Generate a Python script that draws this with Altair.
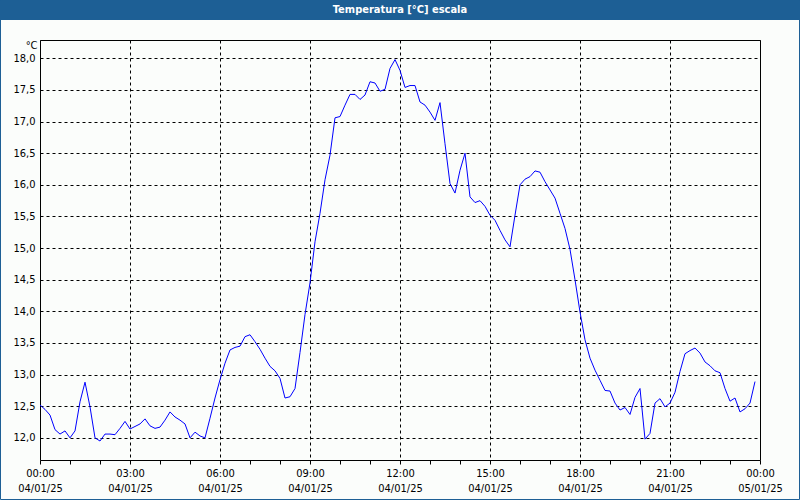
import altair as alt
import pandas as pd

# 10-minute readings on 04/01/25, starting 00:00
temps = [
    12.52, 12.45, 12.36, 12.13, 12.06, 12.11, 12.00, 12.11, 12.57, 12.88,
    12.49, 12.00, 11.95, 12.06, 12.06, 12.05, 12.15, 12.26, 12.14, 12.18,
    12.22, 12.30, 12.19, 12.15, 12.17, 12.28, 12.41, 12.33, 12.28, 12.22,
    12.00, 12.09, 12.03, 12.00, 12.31, 12.63, 12.92, 13.18, 13.39, 13.43,
    13.45, 13.60, 13.63, 13.52, 13.40, 13.26, 13.13, 13.06, 12.94, 12.63,
    12.65, 12.78, 13.35, 13.95, 14.45, 15.10, 15.55, 16.08, 16.47, 17.06,
    17.08, 17.26, 17.43, 17.43, 17.35, 17.42, 17.63, 17.61, 17.48, 17.51,
    17.84, 17.98, 17.81, 17.54, 17.57, 17.57, 17.31, 17.26, 17.15, 17.02,
    17.30, 16.65, 16.02, 15.87, 16.23, 16.50, 15.81, 15.72, 15.75, 15.66,
    15.52, 15.44, 15.28, 15.13, 15.02, 15.52, 16.00, 16.09, 16.13, 16.22,
    16.20, 16.05, 15.92, 15.79, 15.55, 15.31, 14.98, 14.50, 13.99, 13.55,
    13.26, 13.07, 12.91, 12.75, 12.74, 12.55, 12.44, 12.48, 12.37, 12.64,
    12.78, 11.98, 12.07, 12.55, 12.62, 12.49, 12.55, 12.72, 13.05, 13.33,
    13.38, 13.42, 13.34, 13.20, 13.14, 13.06, 13.03, 12.78, 12.58, 12.63,
    12.41, 12.46, 12.55, 12.89,
]
times = [f"2025-01-04T{(i * 10) // 60:02d}:{(i * 10) % 60:02d}:00Z" for i in range(len(temps))]

y_ticks = [12.0, 12.5, 13.0, 13.5, 14.0, 14.5, 15.0, 15.5, 16.0, 16.5, 17.0, 17.5, 18.0]
x_ticks = [alt.DateTime(year=2025, month=1, date=4, hours=h, utc=True) for h in range(24)] + [
    alt.DateTime(year=2025, month=1, date=5, hours=0, utc=True)
]
title_text = "Temperatura [°C] escala"
unit_text = "°C"

FONT = "DejaVu Sans Condensed, Liberation Sans"
HEADER = "#1d5f95"

df = pd.DataFrame({"time": times, "temp": temps})
one = pd.DataFrame({"k": [0]})

x_enc = alt.X(
    "time:T",
    scale=alt.Scale(
        type="utc",
        domain=[
            alt.DateTime(year=2025, month=1, date=4, hours=0, utc=True),
            alt.DateTime(year=2025, month=1, date=5, hours=0, utc=True),
        ],
        nice=False,
    ),
    axis=alt.Axis(
        title=None,
        values=x_ticks,
        labelExpr="utchours(datum.value) % 3 == 0 ? [utcFormat(datum.value, '%H:%M'), utcFormat(datum.value, '%d/%m/%y')] : ''",
        labelOverlap=False,
        labelFlush=False,
        labelFont=FONT,
        labelFontSize=11,
        labelColor="black",
        labelPadding=3,
        labelLineHeight=15,
        tickSize=4,
        tickColor="black",
        domain=False,
        grid=True,
        gridColor="black",
        gridDash=[3, 3],
        gridOpacity={"condition": {"test": "utchours(datum.value) % 3 == 0", "value": 1}, "value": 0},
    ),
)

y_enc = alt.Y(
    "temp:Q",
    scale=alt.Scale(domain=[11.65, 18.29], nice=False, zero=False),
    axis=alt.Axis(
        title=unit_text,
        titleAngle=0,
        titleAlign="right",
        titleBaseline="alphabetic",
        titleX=-3,
        titleY=8,
        titleFont=FONT,
        titleFontSize=11,
        titleFontWeight="normal",
        titleColor="black",
        values=y_ticks,
        labelExpr="replace(format(datum.value, '.1f'), '.', ',')",
        labelFont=FONT,
        labelFontSize=11,
        labelColor="black",
        labelPadding=5,
        ticks=False,
        domain=False,
        grid=True,
        gridColor="black",
        gridDash=[3, 3],
    ),
)

line = alt.Chart(df).mark_line(color="#0000ff", strokeWidth=1).encode(x=x_enc, y=y_enc)

header = alt.Chart(one).mark_rect(color=HEADER).encode(
    x=alt.value(-40), x2=alt.value(760), y=alt.value(-40), y2=alt.value(-20)
)
border = alt.Chart(one).mark_rect(fillOpacity=0, stroke=HEADER, strokeWidth=1).encode(
    x=alt.value(-39.5), x2=alt.value(759.5), y=alt.value(-39.5), y2=alt.value(459.5)
)
title = alt.Chart(one).mark_text(
    color="white", font=FONT, fontSize=11, fontWeight="bold", baseline="middle", align="center"
).encode(x=alt.value(360), y=alt.value(-30), text=alt.value(title_text))

chart = (
    alt.layer(line, header, border, title)
    .properties(
        width=720,
        height=420,
        background="#fbfdfb",
        padding={"left": 40, "top": 40, "right": 40, "bottom": 40},
        autosize=alt.AutoSizeParams(type="none"),
    )
    .configure_view(stroke="black", strokeWidth=1)
)

chart.save("out.html", embed_options={"renderer": "svg", "actions": False})
